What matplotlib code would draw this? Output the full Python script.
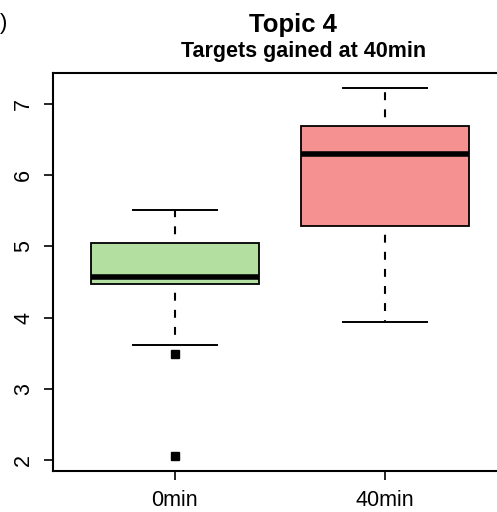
import matplotlib
matplotlib.use("Agg")
import matplotlib.pyplot as plt

plt.rcParams['font.family'] = ['Liberation Sans', 'DejaVu Sans']

categories = ["0min", "40min"]
whislo = [3.62, 3.94]
q1 = [4.47, 5.28]
med = [4.57, 6.30]
q3 = [5.05, 6.69]
whishi = [5.51, 7.22]
fliers = [[3.49, 2.05], []]
colors = ["#B3DFA1", "#F59191"]
yticks = [2, 3, 4, 5, 6, 7]

fig = plt.figure(figsize=(4.97, 5.12), dpi=100)
ax = fig.add_axes([53/497, 1-471/512, (507-53)/497, (471-73)/512])

stats = []
for i, c in enumerate(categories):
    stats.append(dict(label=c, whislo=whislo[i], q1=q1[i], med=med[i],
                      q3=q3[i], whishi=whishi[i], fliers=fliers[i]))

bp = ax.bxp(stats, positions=[1, 2], widths=0.8, patch_artist=True,
            showfliers=True,
            boxprops=dict(linewidth=1.3, edgecolor='black'),
            medianprops=dict(color='black', linewidth=4.0, solid_capstyle='butt'),
            whiskerprops=dict(color='black', linewidth=1.5, linestyle=(4, (3.8, 4.4))),
            capprops=dict(color='black', linewidth=1.4),
            capwidths=0.4,
            flierprops=dict(marker='s', markerfacecolor='black', markeredgecolor='black',
                            markersize=5.5))
for patch, col in zip(bp['boxes'], colors):
    patch.set_facecolor(col)

ax.set_xlim(0.42, 2.58)
ax.set_ylim(1.846, 7.435)
ax.set_yticks(yticks)
ax.set_yticklabels([str(t) for t in yticks], rotation=90, va='center')
ax.set_xticks([1, 2])
ax.set_xticklabels(categories)
ax.tick_params(axis='both', direction='out', length=6.5, width=1.2, labelsize=15.5, pad=7)
for s in ax.spines.values():
    s.set_linewidth(1.5)

fig.text(293/497, 1-31.7/512, "Topic 4", ha='center', va='baseline', fontsize=18.5, fontweight='bold')
fig.text(303.5/497, 1-56.7/512, "Targets gained at 40min", ha='center', va='baseline', fontsize=15.5, fontweight='bold')
fig.text(0.0, 0.955, ")", ha='left', va='center', fontsize=16)

fig.savefig("out.png", dpi=100)
